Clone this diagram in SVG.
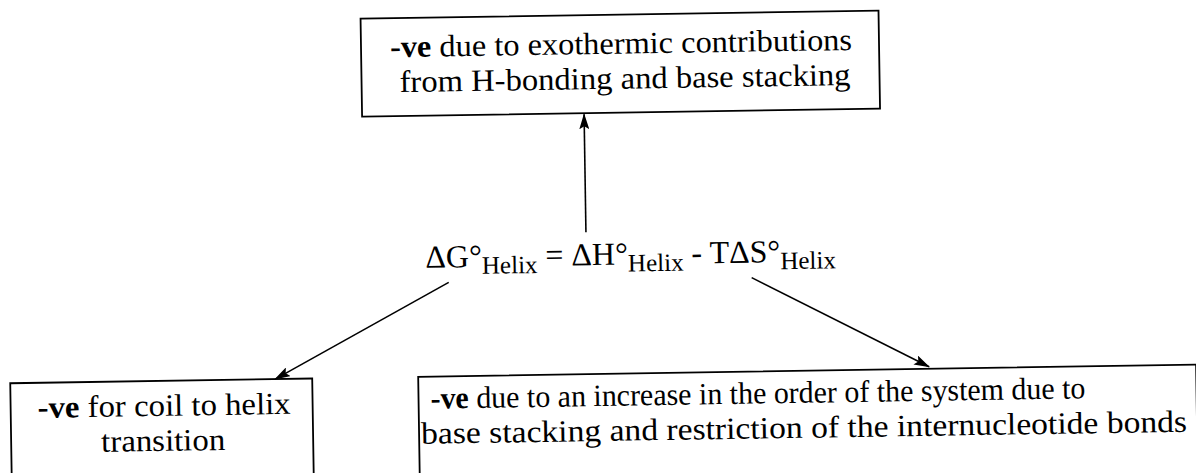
<svg xmlns="http://www.w3.org/2000/svg" width="1196" height="473" viewBox="0 0 1196 473">
<style>
.box{fill:#fff;stroke:#000;stroke-width:1.8}
.t{font-family:"Liberation Serif","Times New Roman",serif;font-size:31px;fill:#000}
.eq{font-family:"Liberation Serif","Times New Roman",serif;font-size:32px;fill:#000}
.b{font-weight:bold}
.sub{font-size:25px}
.conn line{stroke:#000;stroke-width:1.6}
</style>
<defs>
<marker id="ah" markerWidth="16" markerHeight="10" refX="15" refY="5" orient="auto" markerUnits="userSpaceOnUse">
<path d="M0,0 L16,5 L0,10 L3,5 Z" fill="#000"/>
</marker>
</defs>
<rect width="1196" height="473" fill="#fff"/>
<g transform="rotate(-0.9 598 236)">
<g id="connectors" class="conn">
<line x1="586" y1="232" x2="586" y2="114" marker-end="url(#ah)"/>
<line x1="448" y1="280" x2="273" y2="374" marker-end="url(#ah)"/>
<line x1="751" y1="280" x2="927" y2="372" marker-end="url(#ah)"/>
</g>
<g id="node-top">
<rect class="box" x="364" y="15" width="518" height="98"/>
<text class="t" x="393" y="54" textLength="462" lengthAdjust="spacingAndGlyphs"><tspan class="b">-ve</tspan> due to exothermic contributions</text>
<text class="t" x="402" y="89" textLength="451" lengthAdjust="spacingAndGlyphs">from H-bonding and base stacking</text>
</g>
<g id="node-equation">
<text class="eq" x="425" y="265">ΔG°<tspan class="sub" dy="7">Helix</tspan><tspan dy="-7"> = ΔH°</tspan><tspan class="sub" dy="7">Helix</tspan><tspan dy="-7"> - TΔS°</tspan><tspan class="sub" dy="7">Helix</tspan></text>
</g>
<g id="node-left">
<rect class="box" x="8" y="374" width="302" height="110"/>
<text class="t" x="35" y="409" textLength="253" lengthAdjust="spacingAndGlyphs"><tspan class="b">-ve</tspan> for coil to helix</text>
<text class="t" x="98" y="444" textLength="124" lengthAdjust="spacingAndGlyphs">transition</text>
</g>
<g id="node-right">
<rect class="box" x="416" y="374" width="778" height="110"/>
<text class="t" x="428" y="406" textLength="655" lengthAdjust="spacingAndGlyphs"><tspan class="b">-ve</tspan> due to an increase in the order of the system due to</text>
<text class="t" x="418" y="441" textLength="766" lengthAdjust="spacingAndGlyphs">base stacking and restriction of the internucleotide bonds</text>
</g>
</g>
</svg>
